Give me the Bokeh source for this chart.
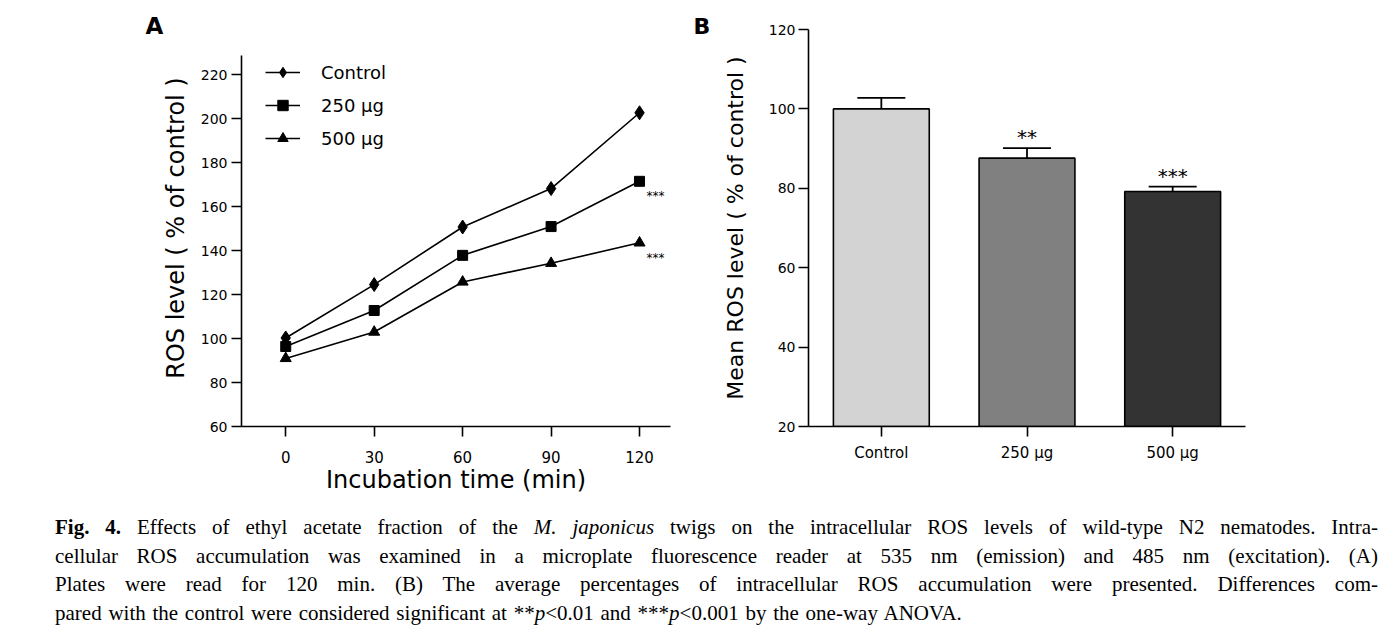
import math
from bokeh.plotting import figure
from bokeh.layouts import column, row
from bokeh.models import (ColumnDataSource, Legend, LegendItem, Whisker,
                          TeeHead, Range1d, FactorRange, FixedTicker, Div)
from bokeh.core.properties import value
from bokeh.embed import file_html
from bokeh.resources import INLINE

# ---------------- data ----------------
# Panel A: ROS level (% of control) over incubation time
time_min = [0, 30, 60, 90, 120]
ros_control = [100.3, 124.6, 150.8, 168.3, 202.8]
ros_250 = [96.4, 112.8, 137.9, 151.0, 171.6]
ros_500 = [91.0, 103.0, 125.8, 134.3, 143.6]
series_names = ["Control", "250 \u03bcg", "500 \u03bcg"]
a_x_ticks = [0, 30, 60, 90, 120]
a_y_ticks = [60, 80, 100, 120, 140, 160, 180, 200, 220]
a_y_axis_end = 229
a_sig_labels = ["***", "***"]          # for 250 and 500 at 120 min

# Panel B: mean ROS level
groups = ["Control", "250 \u03bcg", "500 \u03bcg"]
mean_ros = [100.0, 87.6, 79.2]
sem_ros = [2.8, 2.5, 1.2]
b_sig_labels = ["", "**", "***"]
b_y_ticks = [20, 40, 60, 80, 100, 120]

caption_lines = [
    "<b>Fig. 4.</b> Effects of ethyl acetate fraction of the <i>M. japonicus</i> twigs on the intracellular ROS levels of wild-type N2 nematodes. Intra-",
    "cellular ROS accumulation was examined in a microplate fluorescence reader at 535 nm (emission) and 485 nm (excitation). (A)",
    "Plates were read for 120 min. (B) The average percentages of intracellular ROS accumulation were presented. Differences com-",
    "pared with the control were considered significant at **<i>p</i>&lt;0.01 and ***<i>p</i>&lt;0.001 by the one-way ANOVA.",
]

# ---------------- styles ----------------
FONT = "DejaVu Sans"
bar_colors = ["#d3d3d3", "#808080", "#333333"]


def style_axis(ax, tick_size, label_size, standoff, label_standoff):
    ax.axis_line_color = "black"
    ax.axis_line_width = 1.6
    ax.major_tick_line_color = "black"
    ax.major_tick_line_width = 1.6
    ax.major_tick_out = 10
    ax.major_tick_in = 0
    ax.minor_tick_line_color = None
    ax.major_label_text_font = FONT
    ax.major_label_text_font_size = tick_size
    ax.major_label_text_color = "black"
    ax.major_label_standoff = standoff
    ax.axis_label_text_font = FONT
    ax.axis_label_text_font_size = label_size
    ax.axis_label_text_font_style = "normal"
    ax.axis_label_text_color = "black"
    ax.axis_label_standoff = label_standoff


def style_panel_letter(p, letter, size, offset):
    p.title.text = letter
    p.title.text_font = FONT
    p.title.text_font_size = size
    p.title.text_font_style = "bold"
    p.title.text_color = "black"
    p.title.align = "left"
    p.title.offset = offset
    p.title.standoff = -19


# ---------------- panel A ----------------
# frame shares its top with panel B; the axis line itself stops at a_y_axis_end
pA = figure(width=690, height=500, x_range=Range1d(-15, 130.5), y_range=Range1d(60, 240.7),
            output_backend="svg", toolbar_location=None,
            min_border_left=241, min_border_right=20, min_border_top=29, min_border_bottom=74)
pA.outline_line_color = None
pA.grid.visible = False
pA.background_fill_color = "white"
pA.border_fill_color = "white"
pA.xaxis.ticker = FixedTicker(ticks=a_x_ticks)
pA.yaxis.ticker = FixedTicker(ticks=a_y_ticks)
pA.yaxis.bounds = (a_y_ticks[0], a_y_axis_end)
pA.xaxis.axis_label = "Incubation time (min)"
pA.yaxis.axis_label = "ROS level ( % of control )"
style_axis(pA.xaxis[0], "15px", "24px", 14, 0)
style_axis(pA.yaxis[0], "14px", "24px", 4, 8)
style_panel_letter(pA, "A", "23px", -96)

marker_kinds = ["diamond", "square", "triangle"]
marker_sizes = [14, 10, 11]
items = []
for name, vals, mk, sz in zip(series_names, [ros_control, ros_250, ros_500],
                              marker_kinds, marker_sizes):
    src = ColumnDataSource(dict(x=time_min, y=vals))
    lr = pA.line("x", "y", source=src, line_color="black", line_width=1.6)
    sr = pA.scatter("x", "y", source=src, marker=mk, size=sz,
                    fill_color="black", line_color="black")
    items.append(LegendItem(label=name, renderers=[lr, sr]))

leg = Legend(items=items, location=(24, 275), glyph_width=35, glyph_height=26,
             label_height=26, label_standoff=21, spacing=7, padding=0, margin=0,
             border_line_alpha=0, background_fill_alpha=0,
             label_text_font=FONT, label_text_font_size="18px", label_text_color="black")
pA.add_layout(leg)

sig_src_a = ColumnDataSource(dict(x=[time_min[-1], time_min[-1]],
                                  y=[ros_250[-1], ros_500[-1]], t=a_sig_labels))
pA.text("x", "y", text="t", source=sig_src_a, text_font=value(FONT), text_font_size="12px",
        text_baseline="top", text_align="left", x_offset=7, y_offset=8, text_color="black")

# ---------------- panel B ----------------
pB = figure(width=689, height=500, x_range=FactorRange(factors=groups),
            y_range=Range1d(b_y_ticks[0], b_y_ticks[-1]),
            output_backend="svg", toolbar_location=None,
            min_border_left=118, min_border_right=134, min_border_top=29, min_border_bottom=74)
pB.outline_line_color = None
pB.grid.visible = False
pB.background_fill_color = "white"
pB.border_fill_color = "white"
pB.yaxis.ticker = FixedTicker(ticks=b_y_ticks)
pB.yaxis.axis_label = "Mean ROS level ( % of control )"
style_axis(pB.xaxis[0], "15px", "22px", 7, 0)
style_axis(pB.yaxis[0], "14px", "22px", 3, 18)
style_panel_letter(pB, "B", "22px", -115)

upper = [m + s for m, s in zip(mean_ros, sem_ros)]
src_b = ColumnDataSource(dict(g=groups, m=mean_ros, u=upper, c=bar_colors, t=b_sig_labels))
pB.vbar(x="g", top="m", bottom=b_y_ticks[0], width=0.658, source=src_b,
        fill_color="c", line_color="black", line_width=1.6)
wk = Whisker(base="g", lower="m", upper="u", source=src_b, dimension="height",
             line_color="black", line_width=1.8,
             upper_head=TeeHead(size=48, line_color="black", line_width=1.8),
             lower_head=None, level="glyph")
pB.add_layout(wk)
pB.text("g", "u", text="t", source=src_b, text_font=value(FONT), text_font_size="20px",
        text_baseline="alphabetic", text_align="center", y_offset=-11, text_color="black")

# ---------------- caption ----------------
line_html = []
for i, ln in enumerate(caption_lines):
    if i < len(caption_lines) - 1:
        line_html.append('<div style="text-align:justify;text-align-last:justify">%s</div>' % ln)
    else:
        line_html.append('<div style="text-align:left;word-spacing:1.5px">%s</div>' % ln)
caption_html = ('<div style="margin-left:50px;margin-top:8px;width:1323px;'
                "font-family:'Liberation Serif','Times New Roman',serif;font-size:21px;"
                'line-height:28.7px;color:#000">' + "".join(line_html) + "</div>")
cap = Div(text=caption_html, width=1379, height=125)

layout = column(row(pA, pB), cap)
open("out.html", "w").write(file_html(layout, INLINE))
